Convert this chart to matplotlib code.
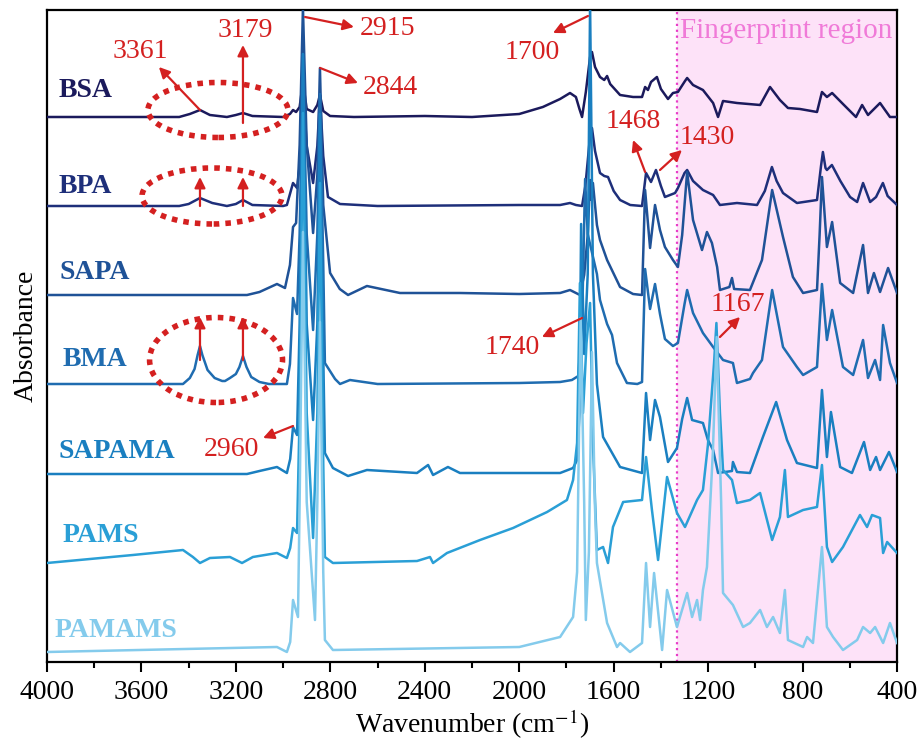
import numpy as np
import matplotlib.pyplot as plt
from matplotlib.patches import Ellipse

plt.rcParams['font.family'] = ['Liberation Serif', 'DejaVu Serif']
plt.rcParams['mathtext.fontset'] = 'stix'

# Spectres : nombre d'onde (cm-1) et absorbance relative (u.a.)
names = ["BSA", "BPA", "SAPA", "BMA", "SAPAMA", "PAMS", "PAMAMS"]
offsets = [545, 456, 367, 278, 188, 99, 10]
colors = ["#1b1a5c", "#1e2f7a", "#1f5297", "#1f6cb0", "#1a7fc0", "#2a9fd6", "#84cbec"]

wn_bsa = [4000, 3440, 3395, 3352, 3310, 3238, 3200, 3170, 3130, 3000, 2971, 2958, 2945, 2930, 2916, 2900, 2873,
          2855, 2844, 2830, 2801, 2700, 2400, 2200, 2000, 1900, 1827, 1785, 1760, 1745, 1734, 1718, 1700, 1692,
          1679, 1658, 1640, 1628, 1615, 1573, 1518, 1480, 1467, 1455, 1442, 1417, 1400, 1370, 1349, 1328, 1298,
          1289, 1264, 1222, 1179, 1158, 1137, 1078, 980, 938, 896, 862, 811, 739, 718, 697, 675, 629, 574, 548,
          523, 472, 430, 400]
ab_bsa = [0, 0, 3, 7, 2, 0, 2, 4, 1, 0, 3, 7, 5, 10, 35, 8, 5,
          12, 22, 6, 1, 0, 1, 0, 3, 10, 18, 24, 20, 8, 0, 25, 60, 65,
          50, 40, 37, 41, 33, 22, 20, 20, 30, 27, 35, 40, 28, 18, 24, 25, 36,
          39, 32, 27, 14, 0, 16, 14, 12, 30, 17, 9, 8, 5, 25, 20, 24, 13, 0, 12,
          2, 14, 0, 0]

wn_bpa = [4000, 3440, 3400, 3352, 3300, 3238, 3200, 3170, 3130, 3000, 2984, 2958, 2941, 2930, 2916, 2900, 2873,
          2855, 2844, 2830, 2810, 2759, 2600, 2000, 1827, 1785, 1760, 1734, 1720, 1700, 1692, 1679, 1658, 1640,
          1624, 1600, 1573, 1530, 1480, 1463, 1442, 1421, 1400, 1383, 1340, 1328, 1300, 1289, 1264, 1222, 1179,
          1150, 1078, 993, 960, 930, 910, 883, 824, 739, 722, 714, 703, 697, 676, 640, 599, 569, 544, 514, 489,
          460, 440, 400]
ab_bpa = [0, 0, 2, 8, 3, 0, 2, 6, 1, 0, 1, 23, 18, 40, 124, 60, 23,
          60, 111, 50, 9, 2, 0, 1, 1, 3, 1, 0, 20, 70, 78, 55, 33, 30,
          29, 15, 6, 1, 0, 33, 24, 36, 20, 9, 13, 18, 33, 36, 25, 16, 11,
          1, 3, 1, 15, 39, 25, 13, 3, 6, 40, 54, 38, 36, 41, 25, 9, 4, 23, 4, 9,
          23, 10, 1]

wn_sapa = [4000, 3153, 3100, 3026, 2992, 2971, 2958, 2945, 2930, 2916, 2900, 2873, 2855, 2844, 2830, 2801, 2760,
           2725, 2645, 2505, 2251, 2000, 1827, 1785, 1743, 1725, 1710, 1700, 1694, 1688, 1671, 1658, 1628, 1573,
           1518, 1480, 1467, 1446, 1425, 1404, 1383, 1349, 1328, 1310, 1289, 1264, 1226, 1205, 1184, 1162, 1150,
           1110, 1099, 1090, 1023, 972, 929, 883, 841, 798, 739, 728, 718, 697, 675, 641, 586, 544, 523, 498, 472,
           438, 400]
ab_sapa = [0, 0, 3, 11, 7, 30, 68, 72, 150, 287, 150, 62, 120, 227, 90, 22, 6,
           0, 9, 2, 2, 1, 2, 5, 0, 20, 60, 115, 95, 112, 70, 55, 35, 8,
           1, 0, 105, 47, 90, 65, 48, 35, 28, 60, 123, 75, 45, 63, 52, 28, 5,
           8, 17, 6, 5, 35, 105, 58, 18, 2, 5, 60, 118, 48, 73, 12, 2, 50, 2, 22, 3,
           27, 2]

wn_bma = [4000, 3424, 3395, 3375, 3362, 3352, 3342, 3320, 3290, 3258, 3246, 3225, 3200, 3185, 3170, 3155, 3135,
          3100, 3060, 2984, 2971, 2958, 2941,
          2930, 2916, 2900, 2873, 2855, 2844, 2830, 2823, 2780, 2759, 2717, 2600, 2000, 1827, 1777, 1750, 1734,
          1721, 1710, 1671, 1658, 1628, 1607, 1586, 1544, 1500, 1480, 1467, 1446, 1425, 1404, 1383, 1349, 1328,
          1300, 1289, 1264, 1222, 1179, 1137, 1095, 1078, 1023, 1010, 972, 929, 883, 824, 798, 739, 718, 697,
          675, 629, 586, 544, 523, 493, 472, 459, 430, 400]
ab_bma = [0, 0, 6, 15, 29, 38, 29, 14, 6, 3, 3, 6, 10, 17, 28, 17, 7,
          2, 0, 0, 20, 86, 70,
          150, 330, 150, 54, 150, 290, 120, 21, 5, 0, 4, 0, 1, 2, 4, 8, 60,
          205, 150, 110, 84, 60, 49, 21, 1, 0, 2, 115, 75, 100, 70, 45, 38, 41,
          80, 94, 71, 51, 37, 24, 21, 1, 5, 11, 24, 94, 37, 17, 9, 17, 100, 44,
          74, 17, 9, 44, 6, 24, 4, 59, 21, 1]

wn_sapama = [4000, 3153, 3100, 3026, 2984, 2970, 2958, 2941, 2930, 2916, 2900, 2873, 2855, 2844, 2830, 2823, 2789,
             2725, 2645, 2433, 2386, 2365, 2302, 2251, 2000, 1827, 1772, 1755, 1745, 1738, 1725, 1710, 1700, 1688,
             1671, 1645, 1573, 1480, 1463, 1446, 1425, 1404, 1370, 1332, 1310, 1289, 1268, 1222, 1201, 1179, 1158,
             1099, 1095, 1078, 1023, 968, 912, 866, 824, 739, 718, 697, 680, 641, 591, 540, 514, 489, 472, 434, 400]
ab_sapama = [0, 0, 3, 7, 1, 15, 47, 39, 150, 420, 150, 54, 150, 360, 120, 21, 6,
             -2, 4, 1, 9, -1, 7, 1, 1, 1, 6, 14, 60, 250, 120, 200, 470, 200,
             90, 37, 7, 1, 81, 34, 74, 57, 12, 26, 55, 76, 54, 51, 34, 24, 1,
             3, 12, 2, 1, 37, 72, 34, 11, 6, 84, 17, 62, 7, 1, 32, 4, 17, 4, 22, 2]

wn_pams = [4000, 3636, 3424, 3382, 3352, 3310, 3225, 3174, 3128, 3026, 2984, 2970, 2958, 2941, 2930, 2916, 2900,
           2873, 2855, 2844, 2830, 2823, 2789, 2433, 2378, 2365, 2306, 2166, 2026, 1882, 1798, 1772, 1755, 1743,
           1730, 1715, 1700, 1688, 1671, 1645, 1624, 1603, 1560, 1480, 1463, 1438, 1412, 1374, 1332, 1298, 1247,
           1222, 1201, 1175, 1165, 1150, 1137, 1099, 1078, 1023, 980, 929, 896, 875, 862, 798, 739, 718, 697, 675,
           629, 557, 527, 506, 472, 459, 442, 400]
ab_pams = [0, 8, 13, 6, 0, 5, 6, 0, 6, 10, 5, 15, 35, 30, 150, 450, 150,
           25, 150, 380, 100, 6, 0, 2, 6, 0, 10, 23, 35, 51, 63, 83, 120, 280,
           150, 220, 260, 120, 13, 16, 0, 36, 61, 63, 106, 53, 3, 86, 50, 36, 63,
           73, 118, 200, 240, 150, 93, 83, 60, 63, 70, 23, 46, 93, 46, 53, 56, 98, 16, 1,
           16, 48, 36, 48, 45, 10, 21, 10]

wn_pamams = [4000, 3026, 2984, 2970, 2958, 2937, 2930, 2916, 2900, 2865, 2855, 2844, 2830, 2823, 2789, 2000, 1827,
             1772, 1755, 1740, 1725, 1718, 1705, 1692, 1680, 1671, 1628, 1586, 1573, 1531, 1480, 1463, 1446, 1429,
             1395, 1374, 1332, 1289, 1268, 1247, 1234, 1222, 1205, 1180, 1164, 1145, 1137, 1095, 1052, 1023, 980,
             951, 925, 896, 875, 862, 798, 781, 756, 718, 697, 671, 629, 569, 544, 514, 493, 459, 430, 400]
ab_pamams = [0, 5, 0, 10, 52, 35, 150, 420, 150, 32, 150, 330, 80, 12, 2, 5, 15,
             35, 80, 334, 150, 32, 100, 300, 150, 89, 29, 5, 9, 0, 9, 89, 25, 79,
             2, 62, 25, 59, 35, 52, 32, 62, 85, 200, 315, 150, 59, 47, 25, 29, 42,
             25, 35, 19, 62, 12, 5, 15, 9, 105, 25, 15, 2, 12, 25, 19, 25, 9, 29, 9]

spectra_wn = [wn_bsa, wn_bpa, wn_sapa, wn_bma, wn_sapama, wn_pams, wn_pamams]
spectra_ab = [ab_bsa, ab_bpa, ab_sapa, ab_bma, ab_sapama, ab_pams, ab_pamams]

# Positions des étiquettes (nombre d'onde, hauteur)
label_x = [3953, 3953, 3945, 3936, 3953, 3936, 3966]
label_y = [571, 475, 389, 302, 210, 126, 32]

red = "#d42020"
fs = 20
fp_limit = 1330  # début de la zone d'empreinte

f = plt.figure(figsize=(9.21, 7.46), dpi=100)
ax = f.add_axes([0.051, 0.1126, 0.923, 0.874])

ax.axvspan(fp_limit, 400, color="#fde2f8", zorder=0, linewidth=0)
ax.axvline(fp_limit, color="#e83cc8", linestyle=":", linewidth=1.6, zorder=1)
ax.text(1318, 631, "Fingerprint region", color="#f07ad8", fontsize=21, va="center", ha="left")

for i in range(len(names)):
    y = np.array(spectra_ab[i]) + offsets[i]
    ax.plot(spectra_wn[i], y, color=colors[i], linewidth=1.8, zorder=3)
    ax.text(label_x[i], label_y[i], names[i], color=colors[i], fontsize=fs, fontweight="bold",
            va="center", ha="left")

# Ellipses pointillées
for (xc, yc, w, h) in [(3276, 552, 593, 55), (3301, 466, 593, 56), (3284, 302, 563, 85)]:
    ax.add_patch(Ellipse((xc, yc), w, h, fill=False, edgecolor=red, linewidth=4,
                         linestyle=(0, (1, 1.1)), zorder=4))

# Annotations
arrow = dict(arrowstyle="-|>", color=red, lw=1.6, mutation_scale=16, shrinkA=0, shrinkB=0)
ax.annotate("", xy=(3526, 595), xytext=(3352, 552), arrowprops=arrow, zorder=5)
ax.text(3606, 610, "3361", color=red, fontsize=fs, ha="center", va="center")
ax.annotate("", xy=(3170, 617), xytext=(3170, 539), arrowprops=arrow, zorder=5)
ax.text(3161, 631, "3179", color=red, fontsize=fs, ha="center", va="center")
ax.annotate("", xy=(2700, 635), xytext=(2907, 645), arrowprops=arrow, zorder=5)
ax.text(2560, 633, "2915", color=red, fontsize=fs, ha="center", va="center")
ax.annotate("", xy=(2683, 579), xytext=(2843, 594), arrowprops=arrow, zorder=5)
ax.text(2547, 574, "2844", color=red, fontsize=fs, ha="center", va="center")
ax.annotate("", xy=(1857, 629), xytext=(1709, 646), arrowprops=arrow, zorder=5)
ax.text(1946, 609, "1700", color=red, fontsize=fs, ha="center", va="center")
ax.annotate("", xy=(1518, 522), xytext=(1467, 490), arrowprops=arrow, zorder=5)
ax.text(1518, 540, "1468", color=red, fontsize=fs, ha="center", va="center")
ax.annotate("", xy=(1311, 512), xytext=(1404, 492), arrowprops=arrow, zorder=5)
ax.text(1205, 524, "1430", color=red, fontsize=fs, ha="center", va="center")
ax.annotate("", xy=(1904, 325), xytext=(1734, 344), arrowprops=arrow, zorder=5)
ax.text(2031, 314, "1740", color=red, fontsize=fs, ha="center", va="center")
ax.annotate("", xy=(1065, 345), xytext=(1150, 325), arrowprops=arrow, zorder=5)
ax.text(1074, 357, "1167", color=red, fontsize=fs, ha="center", va="center")
ax.annotate("", xy=(3085, 224), xytext=(2958, 236), arrowprops=arrow, zorder=5)
ax.text(3217, 212, "2960", color=red, fontsize=fs, ha="center", va="center")

# Petites flèches dans les ellipses
for xa in [3352, 3170]:
    ax.annotate("", xy=(xa, 485), xytext=(xa, 456), arrowprops=arrow, zorder=5)
    ax.annotate("", xy=(xa, 345), xytext=(xa, 302), arrowprops=arrow, zorder=5)

ax.set_xlim(4000, 400)
ax.set_ylim(0, 652)
ax.set_xticks(np.arange(4000, 399, -400))
ax.set_xticks(np.arange(3800, 399, -400), minor=True)
ax.set_yticks([])
ax.tick_params(axis="x", which="major", direction="out", length=7, width=1.5, labelsize=fs, pad=6)
ax.tick_params(axis="x", which="minor", direction="out", length=4, width=1.5)
for s in ax.spines.values():
    s.set_linewidth(1.6)
ax.set_xlabel("Wavenumber (cm$^{-1}$)", fontsize=fs, labelpad=2)
ax.set_ylabel("Absorbance", fontsize=fs, labelpad=6)

plt.savefig("out.png", dpi=100)
